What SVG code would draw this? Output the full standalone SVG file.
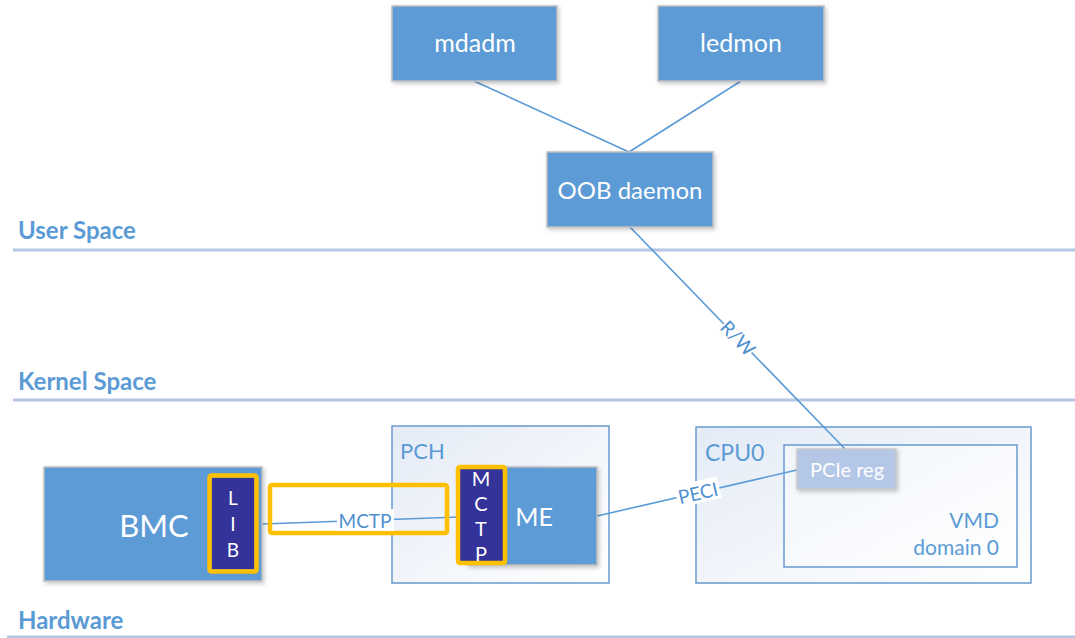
<svg xmlns="http://www.w3.org/2000/svg" width="1075" height="638" viewBox="0 0 1075 638">
  <style>
    .layer { font-family: Lato, "Open Sans", sans-serif; font-weight: 700; font-size: 24px; fill: #5b9bd5; }
    .rule { stroke: #b4c7e7; stroke-width: 3; }
    .box { fill: #5b9bd5; stroke: #bfbfbf; stroke-width: 1.5; filter: url(#shadow); }
    .wt { font-family: Lato, "Open Sans", sans-serif; fill: #ffffff; text-anchor: middle; }
    .bt { font-family: Lato, "Open Sans", sans-serif; fill: #5b9bd5; }
    .frame { stroke: #6a9bd0; stroke-width: 1.5; }
    .wire { stroke: #5b9bd5; stroke-width: 1.6; fill: none; }
    .lbl { font-family: Lato, "Open Sans", sans-serif; font-size: 19px; fill: #4f8fcf; text-anchor: middle; }
    .hl { fill: none; stroke: #ffc000; stroke-width: 4.5; }
    .chip { fill: #333399; }
  </style>
  <defs>
    <filter id="shadow" x="-10%" y="-10%" width="130%" height="130%">
      <feDropShadow dx="1.5" dy="2" stdDeviation="2" flood-color="#000" flood-opacity="0.22"/>
    </filter>
    <linearGradient id="pkg" x1="0" y1="0" x2="1" y2="1">
      <stop offset="0" stop-color="#e4ebf6"/>
      <stop offset="1" stop-color="#ffffff"/>
    </linearGradient>
    <linearGradient id="inner" x1="0" y1="0" x2="1" y2="1">
      <stop offset="0" stop-color="#f1f5fb"/>
      <stop offset="1" stop-color="#ffffff"/>
    </linearGradient>
  </defs>

  <rect width="1075" height="638" fill="#ffffff"/>

  <!-- layer separators -->
  <g id="layers">
    <text class="layer" x="18" y="239">User Space</text>
    <line class="rule" x1="13" y1="250" x2="1075" y2="250"/>
    <text class="layer" x="18" y="390">Kernel Space</text>
    <line class="rule" x1="13" y1="400" x2="1075" y2="400"/>
    <text class="layer" x="18" y="629">Hardware</text>
    <line class="rule" x1="7" y1="637" x2="1075" y2="637"/>
  </g>

  <!-- packages -->
  <g id="pch">
    <rect class="frame" x="392" y="426" width="217" height="157" fill="url(#pkg)"/>
    <text class="bt" x="400" y="459" font-size="22">PCH</text>
  </g>
  <g id="cpu0">
    <rect class="frame" x="696" y="427" width="335" height="156" fill="url(#pkg)"/>
    <text class="bt" x="705" y="461" font-size="23">CPU0</text>
  </g>
  <g id="vmd">
    <rect class="frame" x="784" y="445" width="233" height="122" fill="url(#inner)"/>
    <text class="bt" x="999" y="528" font-size="21" text-anchor="end">VMD</text>
    <text class="bt" x="999" y="555" font-size="21" text-anchor="end">domain 0</text>
  </g>

  <!-- connectors -->
  <g id="connectors">
    <line class="wire" x1="474" y1="81" x2="629" y2="152"/>
    <line class="wire" x1="741" y1="81" x2="629" y2="152"/>
    <line class="wire" x1="630" y1="227" x2="847" y2="451"/>
    <line class="wire" x1="597" y1="516" x2="797" y2="470"/>
    <line class="wire" x1="262" y1="524" x2="460" y2="517"/>
    <!-- R/W label -->
    <g transform="translate(738,338) rotate(46)">
      <rect x="-20" y="-12" width="40" height="22" fill="#ffffff"/>
      <text class="lbl" x="0" y="7">R/W</text>
    </g>
    <!-- PECI label -->
    <g transform="translate(698,493) rotate(-13)">
      <rect x="-22" y="-12" width="44" height="22" fill="#ffffff"/>
      <text class="lbl" x="0" y="7">PECI</text>
    </g>
    <!-- MCTP label -->
    <rect class="hl" x="270" y="485" width="177" height="48" rx="2"/>
    <rect x="337" y="509" width="57" height="22" fill="#ffffff"/>
    <text class="lbl" x="365" y="528" font-size="20">MCTP</text>
  </g>

  <!-- user space nodes -->
  <g id="mdadm">
    <rect class="box" x="392" y="6" width="165" height="75"/>
    <text class="wt" x="475" y="52" font-size="25">mdadm</text>
  </g>
  <g id="ledmon">
    <rect class="box" x="658" y="6" width="166" height="75"/>
    <text class="wt" x="741" y="52" font-size="25">ledmon</text>
  </g>
  <g id="oob-daemon">
    <rect class="box" x="547" y="152" width="166" height="75"/>
    <text class="wt" x="630" y="199" font-size="24">OOB daemon</text>
  </g>

  <!-- hardware nodes -->
  <g id="bmc">
    <rect class="box" x="44" y="467" width="218" height="114"/>
    <text class="wt" x="154" y="537" font-size="31">BMC</text>
  </g>
  <g id="lib">
    <rect class="chip" x="212" y="478" width="42" height="91"/>
    <rect class="hl" x="209.5" y="475.5" width="47" height="96" rx="2"/>
    <text class="wt" x="233" y="505" font-size="19">L</text>
    <text class="wt" x="233" y="531" font-size="19">I</text>
    <text class="wt" x="233" y="557" font-size="19">B</text>
  </g>
  <g id="me">
    <rect class="box" x="468" y="467" width="129" height="98"/>
    <text class="wt" x="534" y="526" font-size="25">ME</text>
  </g>
  <g id="mctp">
    <rect class="chip" x="460" y="469" width="43" height="92"/>
    <rect class="hl" x="458" y="467" width="47" height="96" rx="2"/>
    <text class="wt" x="481" y="486" font-size="20">M</text>
    <text class="wt" x="481" y="511" font-size="20">C</text>
    <text class="wt" x="481" y="536" font-size="20">T</text>
    <text class="wt" x="481" y="561" font-size="20">P</text>
  </g>
  <g id="pcie-reg">
    <rect x="797" y="449" width="99" height="40" fill="#b4c7e7" stroke="#c8c8c8" stroke-width="1.5" filter="url(#shadow)"/>
    <text class="wt" x="847" y="477" font-size="20">PCIe reg</text>
  </g>
</svg>
